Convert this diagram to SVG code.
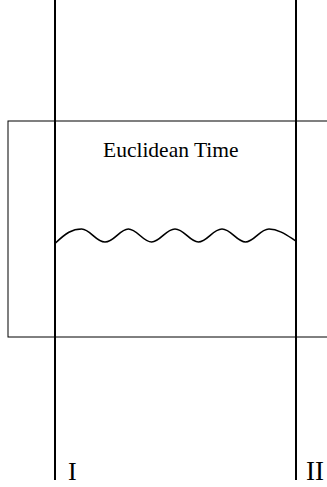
<svg xmlns="http://www.w3.org/2000/svg" width="327" height="487" viewBox="0 0 327 487">
<style>
.frame{fill:none;stroke:#000;stroke-width:1}
.world{fill:none;stroke:#000;stroke-width:2}
.wave{fill:none;stroke:#000;stroke-width:1.6}
text{font-family:"Liberation Serif","Times New Roman",serif;fill:#000}
</style>
<rect width="327" height="487" fill="#fff"/>
<g id="box">
<rect class="frame" x="8" y="121" width="330" height="216"/>
<text x="103" y="157" font-size="21.5">Euclidean Time</text>
</g>
<g id="wave">
<path class="wave" d="M55.5,243 C66,233 72,229 81.7,229 C90,229 96,242 105,242 C114,242 120,229 128.3,229 C137,229 143,242 151.7,242 C160,242 166,229 175,229 C184,229 190,242 198.3,242 C207,242 213,229 222,229 C231,229 237,242 245.5,242 C254,242 260,229 269,229 C279,229 288,236 296,241"/>
</g>
<g id="line-I">
<line class="world" x1="55" y1="0" x2="55" y2="480"/>
<text x="68" y="480" font-size="26">I</text>
</g>
<g id="line-II">
<line class="world" x1="296" y1="0" x2="296" y2="480"/>
<text x="306" y="480" font-size="27">II</text>
</g>
</svg>
